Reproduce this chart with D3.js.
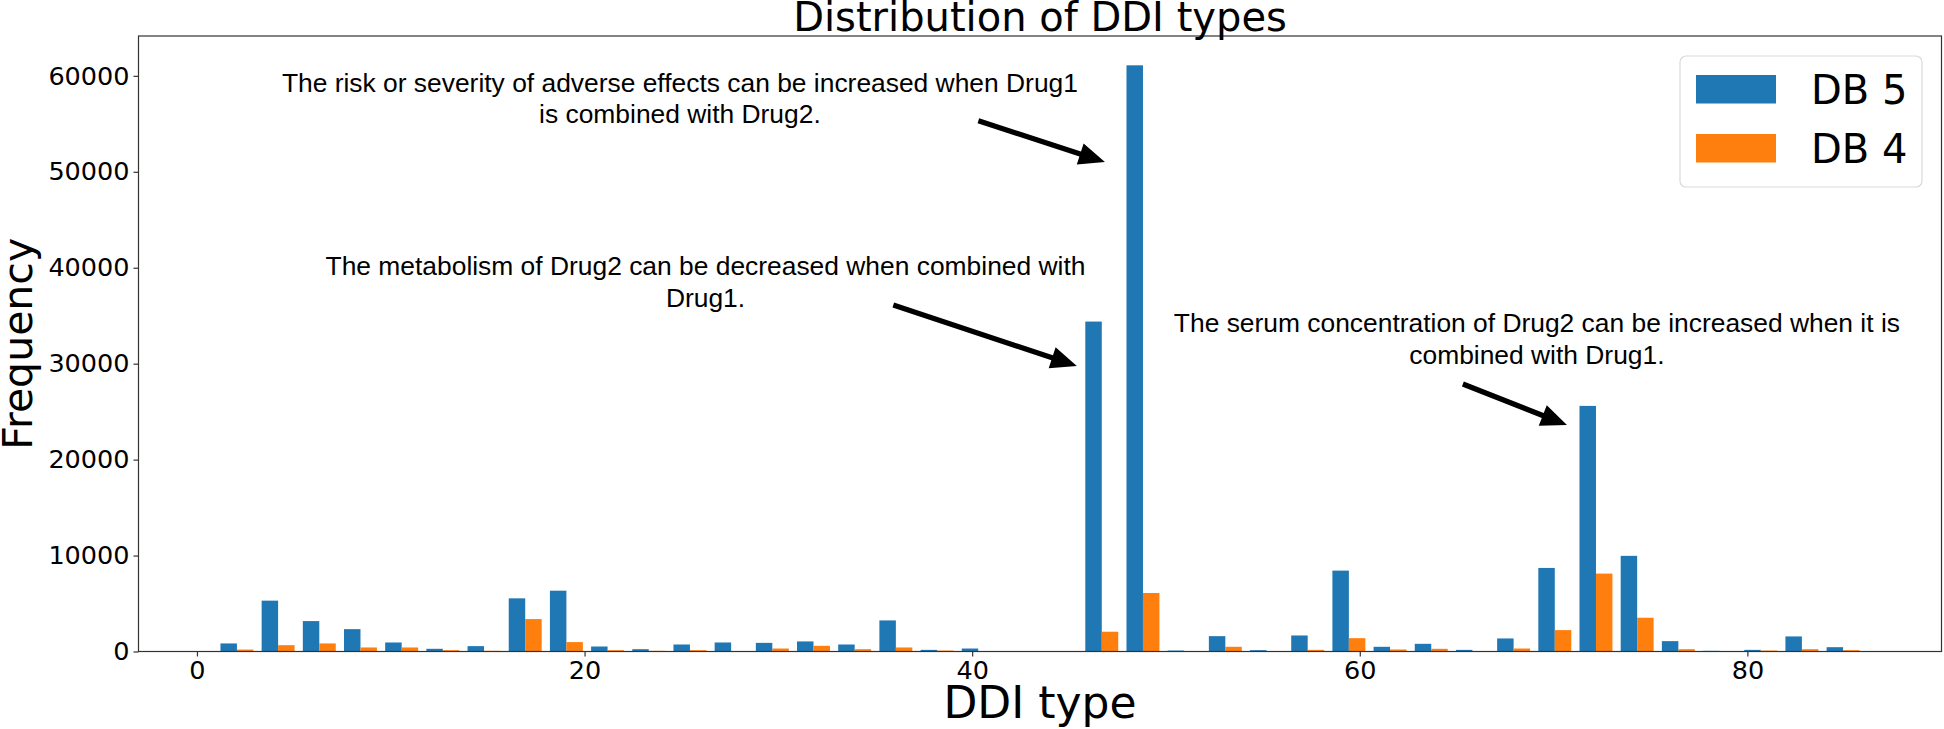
<!DOCTYPE html>
<html>
<head>
<meta charset="utf-8">
<script src="https://cdn.jsdelivr.net/npm/d3@7/dist/d3.min.js"></script>
<style>
  html, body { margin: 0; padding: 0; background: #fff; }
  svg { display: block; }
  text { fill: #000; }
</style>
</head>
<body>
<svg id="chart"></svg>
<script>
// histogram of DDI types, 40 bins from type 1 to 86
const seriesNames = ["DB 5", "DB 4"];
const seriesColors = ["#1f77b4", "#ff7f0e"];
const typeRange = [1, 86];
const binCount = 40;

const db5Counts = [840, 5300, 3170, 2330, 940, 280, 560, 5540, 6340, 520,
                   240, 730, 940, 900, 1050, 730, 3240, 170, 310, 0,
                   40, 34390, 61100, 100, 1600, 140, 1670, 8430, 490, 800,
                   170, 1360, 8710, 25600, 9970, 1080, 70, 170, 1570, 450];
const db4Counts = [200, 660, 840, 420, 420, 140, 70, 3380, 980, 140,
                   70, 140, 50, 310, 590, 240, 420, 100, 50, 0,
                   30, 2060, 6100, 0, 490, 0, 170, 1390, 210, 280,
                   20, 310, 2230, 8120, 3520, 240, 0, 100, 240, 140];

const xTicks = [0, 20, 40, 60, 80];
const yTicks = [0, 10000, 20000, 30000, 40000, 50000, 60000];

// annotate(): text position and arrow tail/tip in data coordinates
const annotations = [
  {lines: ["The risk or severity of adverse effects can be increased when Drug1", "is combined with Drug2."],
   textAt: [24.92, 58350], from: [40.32, 55325], to: [46.85, 51020]},
  {lines: ["The metabolism of Drug2 can be decreased when combined with", "Drug1."],
   textAt: [26.24, 39245], from: [35.93, 36116], to: [45.40, 29757]},
  {lines: ["The serum concentration of Drug2 can be increased when it is", "combined with Drug1."],
   textAt: [69.14, 33302], from: [65.32, 27881], to: [70.69, 23608]}
];

const width = 1944, height = 729;
const margin = {left: 138.5, right: 2.5, top: 36, bottom: 77.5};

const svg = d3.select('#chart')
    .attr('width', width)
    .attr('height', height)
    .attr('viewBox', `0 0 ${width} ${height}`);

// bins like plt.hist with two datasets side by side (rwidth 0.8)
const binW = (typeRange[1] - typeRange[0]) / binCount;
const bins = d3.range(binCount).map(i => ({
  left: typeRange[0] + i * binW,
  values: [db5Counts[i], db4Counts[i]]
}));

const xMin = bins[0].left + 0.1 * binW;
const xMax = bins[binCount - 1].left + 0.9 * binW;
const pad = (xMax - xMin) * 0.05;
const x = d3.scaleLinear()
    .domain([xMin - pad, xMax + pad])
    .range([margin.left, width - margin.right]);

const yMax = d3.max(db5Counts.concat(db4Counts)) * 1.05;
const y = d3.scaleLinear()
    .domain([0, yMax])
    .range([height - margin.bottom, margin.top]);

// bars
const barW = 0.4 * binW;
const g = svg.append('g');
seriesNames.forEach((name, s) => {
  g.selectAll(null)
    .data(bins)
    .join('rect')
      .attr('x', d => x(d.left + 0.1 * binW + s * barW))
      .attr('y', d => y(d.values[s]))
      .attr('width', d => x(barW) - x(0))
      .attr('height', d => y(0) - y(d.values[s]))
      .attr('fill', seriesColors[s]);
});

// axes
const xAxis = svg.append('g')
    .attr('transform', `translate(0,${height - margin.bottom})`)
    .call(d3.axisBottom(x).tickValues(xTicks).tickSize(5).tickPadding(4).tickSizeOuter(0));
const yAxis = svg.append('g')
    .attr('transform', `translate(${margin.left},0)`)
    .call(d3.axisLeft(y).tickValues(yTicks).tickFormat(d3.format('d')).tickSize(5).tickPadding(4).tickSizeOuter(0));

[xAxis, yAxis].forEach(ax => {
  ax.select('.domain').remove();
  ax.selectAll('.tick line').attr('stroke', '#333').attr('stroke-width', 1.2);
  ax.selectAll('.tick text')
    .attr('font-family', 'DejaVu Sans')
    .attr('font-size', 25.5)
    .attr('fill', '#000');
});

// frame
svg.append('rect')
    .attr('x', margin.left)
    .attr('y', margin.top)
    .attr('width', width - margin.left - margin.right)
    .attr('height', height - margin.top - margin.bottom)
    .attr('fill', 'none')
    .attr('stroke', '#333')
    .attr('stroke-width', 1.2);

// title + labels
svg.append('text')
    .attr('x', (margin.left + width - margin.right) / 2)
    .attr('y', 31)
    .attr('text-anchor', 'middle')
    .attr('font-family', 'DejaVu Sans')
    .attr('font-size', 40)
    .text('Distribution of DDI types');

svg.append('text')
    .attr('x', (margin.left + width - margin.right) / 2)
    .attr('y', 718)
    .attr('text-anchor', 'middle')
    .attr('font-family', 'DejaVu Sans')
    .attr('font-size', 44)
    .text('DDI type');

svg.append('text')
    .attr('transform', `translate(32,${(margin.top + height - margin.bottom) / 2}) rotate(-90)`)
    .attr('text-anchor', 'middle')
    .attr('font-family', 'DejaVu Sans')
    .attr('font-size', 41)
    .text('Frequency');

// annotations with arrows
function arrowPath(x0, y0, x1, y1) {
  const dx = x1 - x0, dy = y1 - y0;
  const len = Math.hypot(dx, dy);
  const ux = dx / len, uy = dy / len, nx = -uy, ny = ux;
  const hl = 26, hw = 11, sw = 2.6;
  const bx = x1 - ux * hl, by = y1 - uy * hl;
  const pts = [
    [x0 + nx * sw, y0 + ny * sw],
    [bx + nx * sw, by + ny * sw],
    [bx + nx * hw, by + ny * hw],
    [x1, y1],
    [bx - nx * hw, by - ny * hw],
    [bx - nx * sw, by - ny * sw],
    [x0 - nx * sw, y0 - ny * sw]
  ];
  return 'M' + pts.map(p => p.join(',')).join('L') + 'Z';
}

annotations.forEach(a => {
  const t = svg.append('text')
      .attr('x', x(a.textAt[0]))
      .attr('y', y(a.textAt[1]))
      .attr('text-anchor', 'middle')
      .attr('font-family', 'Liberation Sans, Arial, sans-serif')
      .attr('font-size', 26.4);
  a.lines.forEach((line, i) => {
    t.append('tspan')
      .attr('x', x(a.textAt[0]))
      .attr('dy', i === 0 ? 0 : 31.6)
      .text(line);
  });
  svg.append('path')
      .attr('d', arrowPath(x(a.from[0]), y(a.from[1]), x(a.to[0]), y(a.to[1])))
      .attr('fill', '#000');
});

// legend
const legend = svg.append('g');
legend.append('rect')
    .attr('x', 1680).attr('y', 56)
    .attr('width', 242).attr('height', 131)
    .attr('rx', 6)
    .attr('fill', '#fff')
    .attr('fill-opacity', 0.8)
    .attr('stroke', '#d9d9d9')
    .attr('stroke-width', 1.2);
seriesNames.forEach((name, i) => {
  legend.append('rect')
    .attr('x', 1696).attr('y', 75 + i * 59)
    .attr('width', 80).attr('height', 28.5)
    .attr('fill', seriesColors[i]);
  legend.append('text')
    .attr('x', 1811).attr('y', 103.5 + i * 59)
    .attr('font-family', 'DejaVu Sans')
    .attr('font-size', 40)
    .text(name);
});
</script>
</body>
</html>
